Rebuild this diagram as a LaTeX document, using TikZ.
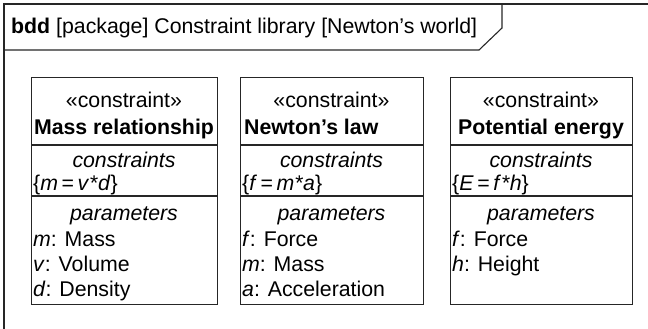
\documentclass[tikz,border=0pt]{standalone}
\usepackage{fontspec}
\setmainfont{Liberation Sans}
\tikzset{
  frame/.style={line width=1.1pt, draw=black!85},
  cbox/.style={draw=black!85, line width=1.1pt, rectangle, inner sep=0pt, anchor=north west},
  txt/.style={anchor=base, inner sep=0pt, font=\fontsize{21.3}{25}\selectfont},
  ltxt/.style={txt, anchor=base west},
}
\begin{document}
\begin{tikzpicture}[x=1pt, y=-1pt]
\useasboundingbox (0,0) rectangle (648,329);
% frame
\draw[frame] (4,329) -- (4,4) -- (648,4);
\draw[frame] (4,50) -- (479,50) -- (502,28) -- (502,4);
\node[ltxt] (title) at (11,34) {\textbf{bdd} [package] Constraint library [Newton’s world]};
% box 1
\node[cbox, minimum width=186pt, minimum height=227pt] (b1) at (31,77) {};
\draw[frame] (31,145) -- (217,145);
\draw[frame] (31,196) -- (217,196);
\node[txt] (s1) at (124,107) {«constraint»};
\node[txt] (n1) at (124,134) {\bfseries Mass relationship};
\node[txt] (c1) at (124,167) {\itshape constraints};
\node[ltxt] (e1) at (33,190) {\{\textit{m}\,=\,\textit{v}\textit{*}\textit{d}\}};
\node[txt] (p1) at (124,220) {\itshape parameters};
\node[ltxt] (q1) at (33,246) {\textit{m}: Mass};
\node[ltxt] (r1) at (33,271) {\textit{v}: Volume};
\node[ltxt] (t1) at (33,296) {\textit{d}: Density};
% box 2
\node[cbox, minimum width=183pt, minimum height=227pt] (b2) at (240,77) {};
\draw[frame] (240,145) -- (423,145);
\draw[frame] (240,196) -- (423,196);
\node[txt] (s2) at (331.5,107) {«constraint»};
\node[ltxt] (n2) at (244,134) {\bfseries Newton’s law};
\node[txt] (c2) at (331.5,167) {\itshape constraints};
\node[ltxt] (e2) at (242,190) {\{\textit{f}\,=\,\textit{m}\textit{*}\textit{a}\}};
\node[txt] (p2) at (331.5,220) {\itshape parameters};
\node[ltxt] (q2) at (242,246) {\textit{f}: Force};
\node[ltxt] (r2) at (242,271) {\textit{m}: Mass};
\node[ltxt] (t2) at (242,296) {\textit{a}: Acceleration};
% box 3
\node[cbox, minimum width=182pt, minimum height=227pt] (b3) at (450,77) {};
\draw[frame] (450,145) -- (632,145);
\draw[frame] (450,196) -- (632,196);
\node[txt] (s3) at (541,107) {«constraint»};
\node[txt] (n3) at (541,134) {\bfseries Potential energy};
\node[txt] (c3) at (541,167) {\itshape constraints};
\node[ltxt] (e3) at (452,190) {\{\textit{E}\,=\,\textit{f}\textit{*}\textit{h}\}};
\node[txt] (p3) at (541,220) {\itshape parameters};
\node[ltxt] (q3) at (452,246) {\textit{f}: Force};
\node[ltxt] (r3) at (452,271) {\textit{h}: Height};
\end{tikzpicture}
\end{document}
